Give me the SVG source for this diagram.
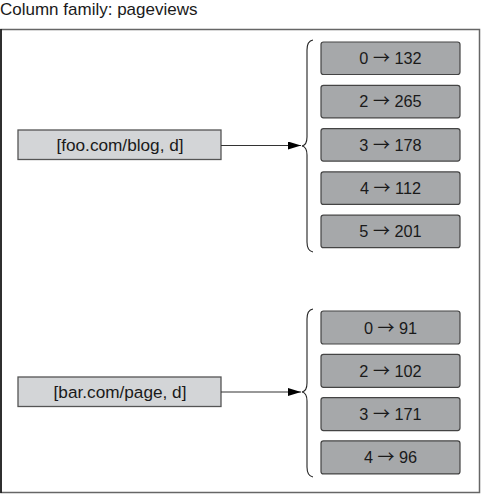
<svg xmlns="http://www.w3.org/2000/svg" width="482" height="495" viewBox="0 0 482 495">
<defs>
<style>
text{font-family:"Liberation Sans",Arial,sans-serif;fill:#1a1a1a}
.title{font-size:17px}
.key rect{fill:#d3d5d7;stroke:#555;stroke-width:1.3}
.key text{font-size:17.2px;text-anchor:middle}
.val rect{fill:#a6a8aa;stroke:#444;stroke-width:1.2}
.val text{font-size:16.3px;text-anchor:middle}
.ar{font-family:"Noto Sans CJK SC",sans-serif;font-size:17px}
.brace{fill:none;stroke:#222;stroke-width:1.1}
.conn{stroke:#333;stroke-width:1.2;fill:none}
</style>
<marker id="ah" markerWidth="13" markerHeight="8" refX="13" refY="4" orient="auto" markerUnits="userSpaceOnUse">
<path d="M0,0 L13,4 L0,8 Z" fill="#000"/>
</marker>
</defs>
<rect width="482" height="495" fill="#fff"/>
<text class="title" x="0" y="14.5">Column family: pageviews</text>
<rect x="1" y="29.5" width="478.5" height="463" fill="none" stroke="#666" stroke-width="1.5"/>
<line x1="1" y1="29" x2="1" y2="493" stroke="#111" stroke-width="1.5"/>

<g id="key-foo" class="key"><rect x="18" y="130" width="203" height="29.5"/><text x="120" y="150.5">[foo.com/blog, d]</text></g>
<g id="key-bar" class="key"><rect x="18" y="377" width="203" height="29.5"/><text x="120" y="397.5">[bar.com/page, d]</text></g>

<g id="braces">
<path class="brace" d="M313,40 Q307,41 307,50 L307,137 Q307,145 302,146 Q307,147 307,155 L307,242 Q307,251 313,252"/>
<path class="brace" d="M313,309 Q307,310 307,319 L307,383 Q307,391 302,392 Q307,393 307,401 L307,467 Q307,476 313,477"/>
</g>

<g id="foo-values" class="val">
<g id="v-foo-0"><rect x="321" y="42" width="139" height="32.5" rx="2.5"/><text x="390.5" y="64">0 <tspan class="ar">→</tspan> 132</text></g>
<g id="v-foo-2"><rect x="321" y="85.3" width="139" height="32.5" rx="2.5"/><text x="390.5" y="107.3">2 <tspan class="ar">→</tspan> 265</text></g>
<g id="v-foo-3"><rect x="321" y="128.6" width="139" height="32.5" rx="2.5"/><text x="390.5" y="150.6">3 <tspan class="ar">→</tspan> 178</text></g>
<g id="v-foo-4"><rect x="321" y="171.9" width="139" height="32.5" rx="2.5"/><text x="390.5" y="193.9">4 <tspan class="ar">→</tspan> 112</text></g>
<g id="v-foo-5"><rect x="321" y="215.2" width="139" height="32.5" rx="2.5"/><text x="390.5" y="237.2">5 <tspan class="ar">→</tspan> 201</text></g>
</g>

<g id="bar-values" class="val">
<g id="v-bar-0"><rect x="321" y="311" width="139" height="33" rx="2.5"/><text x="390.5" y="333.5">0 <tspan class="ar">→</tspan> 91</text></g>
<g id="v-bar-2"><rect x="321" y="354.3" width="139" height="33" rx="2.5"/><text x="390.5" y="376.8">2 <tspan class="ar">→</tspan> 102</text></g>
<g id="v-bar-3"><rect x="321" y="397.6" width="139" height="33" rx="2.5"/><text x="390.5" y="420.1">3 <tspan class="ar">→</tspan> 171</text></g>
<g id="v-bar-4"><rect x="321" y="440.9" width="139" height="33" rx="2.5"/><text x="390.5" y="463.4">4 <tspan class="ar">→</tspan> 96</text></g>
</g>

<g id="connectors">
<line class="conn" x1="221" y1="145.5" x2="301" y2="145.5" marker-end="url(#ah)"/>
<line class="conn" x1="221" y1="392" x2="301" y2="392" marker-end="url(#ah)"/>
</g>
</svg>
